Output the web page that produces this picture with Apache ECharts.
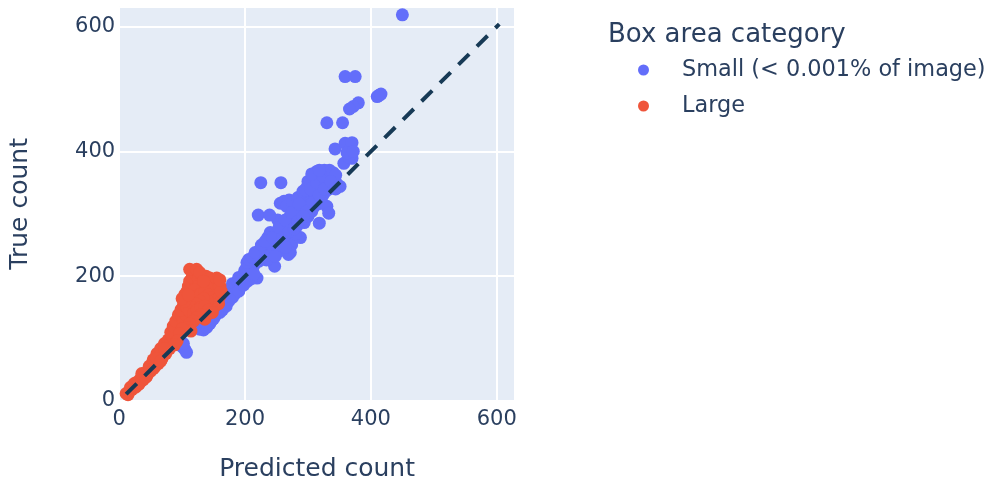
<!DOCTYPE html>
<html>
<head>
<meta charset="utf-8">
<script src="https://cdn.jsdelivr.net/npm/echarts@6/dist/echarts.min.js"></script>
<style>
  html, body { margin: 0; padding: 0; background: #fff; }
  #chart { width: 994px; height: 487px; }
</style>
</head>
<body>
<div id="chart"></div>
<script>
// [predicted, true] pairs
var smallCounts = [
  [99, 88], [104, 83], [107, 78], [102, 92],
  [128, 115], [134, 114], [139, 118], [136, 126], [142, 130], [146, 128], [148, 138], [152, 136],
  [150, 146], [156, 144], [158, 152], [162, 150], [160, 160], [166, 158], [168, 166], [172, 164],
  [170, 174], [176, 172], [178, 180], [182, 178], [180, 188], [186, 184], [188, 192], [192, 190],
  [190, 198], [196, 196], [198, 204], [202, 200], [200, 210], [206, 208], [208, 216], [212, 212],
  [210, 222], [216, 220], [218, 228], [222, 224], [220, 234], [226, 232], [228, 240], [232, 236],
  [230, 246], [236, 244], [238, 252], [242, 248], [240, 258], [246, 256], [248, 264], [252, 260],
  [250, 270], [256, 268], [258, 276], [262, 272], [260, 282], [266, 280], [268, 288], [272, 284],
  [270, 294], [276, 292], [278, 300], [282, 296], [280, 306], [286, 304], [288, 312], [292, 308],
  [290, 318], [296, 316], [298, 324], [302, 320], [300, 330], [306, 328], [308, 336], [312, 332],
  [310, 342], [316, 340], [318, 348], [322, 344], [320, 354], [326, 352], [328, 360], [332, 356],
  [330, 366], [336, 364], [338, 360], [342, 356], [316, 362], [322, 366], [312, 358], [326, 370],
  [203, 222], [206, 227], [224, 243], [245, 247], [255, 255], [268, 259], [274, 250], [288, 262],
  [272, 238], [269, 235], [247, 216], [219, 197], [210, 196], [234, 226], [262, 250], [280, 268],
  [294, 286], [300, 296], [306, 304], [310, 312], [316, 316], [320, 322], [324, 330], [328, 336],
  [334, 340], [340, 344], [346, 348], [351, 344], [330, 312], [333, 301], [318, 285], [300, 302],
  [256, 317], [262, 320], [270, 322], [266, 312], [276, 318], [284, 326], [292, 336], [298, 342],
  [304, 348], [308, 356], [240, 270], [236, 262], [252, 290], [300, 352], [314, 368], [330, 350],
  [144, 124], [154, 140], [164, 146], [174, 160], [184, 172], [194, 184], [204, 192], [214, 204],
  [150, 132], [160, 142], [170, 152], [180, 166], [190, 176], [198, 186], [212, 230], [216, 238],
  [226, 250], [232, 256], [244, 262], [254, 278], [264, 290], [274, 302], [286, 316], [296, 338],
  [304, 340], [314, 350], [324, 360], [334, 370], [306, 364], [318, 370], [340, 366], [344, 362],
  [282, 280], [290, 292], [298, 304], [308, 318], [318, 330], [326, 340], [336, 352], [344, 340],
  [254, 240], [260, 262], [270, 272], [278, 276], [284, 288], [292, 296], [264, 246], [248, 232],
  [343, 404], [359, 413], [370, 414], [357, 381], [370, 389], [365, 391], [362, 398], [372, 400],
  [380, 478], [372, 472], [366, 468], [330, 446], [355, 446], [359, 520], [375, 520],
  [410, 488], [413, 490], [416, 492], [450, 619], [225, 350], [257, 350], [221, 298], [239, 298]
];

var largeCounts = [
  [11, 12], [14, 10], [16, 16], [20, 18], [22, 24], [26, 22], [28, 30], [32, 28], [34, 36], [38, 34],
  [40, 42], [44, 40], [46, 50], [50, 48], [52, 58], [56, 54], [58, 64], [62, 60], [64, 72], [68, 68],
  [70, 80], [74, 76], [76, 86], [80, 84], [60, 76], [54, 66], [66, 84], [72, 92], [78, 98], [82, 94],
  [84, 104], [86, 100], [88, 112], [90, 106], [92, 120], [94, 114], [96, 128], [98, 122], [82, 110],
  [86, 120], [90, 128], [94, 138], [100, 136], [102, 130], [104, 144], [106, 138], [98, 146],
  [102, 154], [108, 150], [110, 158], [106, 162], [112, 166], [104, 170], [108, 176], [114, 172],
  [116, 180], [110, 184], [118, 186], [112, 192], [120, 194], [116, 198], [122, 202], [112, 211],
  [123, 211], [144, 197], [155, 197], [126, 196], [132, 198], [138, 200], [146, 190], [152, 186],
  [158, 182], [156, 172], [150, 176], [144, 180], [138, 184], [132, 188], [126, 184], [120, 178],
  [124, 168], [130, 172], [136, 176], [142, 170], [148, 166], [154, 162], [160, 168], [158, 156],
  [152, 152], [146, 156], [140, 160], [134, 164], [128, 160], [122, 156], [116, 150], [112, 144],
  [118, 140], [124, 146], [130, 150], [136, 152], [142, 146], [148, 142], [136, 131], [130, 138],
  [124, 134], [118, 128], [112, 124], [108, 118], [114, 112], [100, 116], [96, 108], [92, 96],
  [88, 90], [160, 184], [162, 176], [160, 194], [128, 206], [134, 192], [104, 160], [100, 164], [110, 170],
  [18, 22], [24, 28], [30, 26], [36, 44], [42, 38], [48, 56], [54, 52], [60, 68], [66, 64], [72, 84]
];

var diagonal = [[11, 11], [604, 604]];
var tickValues = [0, 200, 400, 600];

var textColor = '#2a3f5f';
var font = 'DejaVu Sans';

var myChart = echarts.init(document.getElementById('chart'));
var option = {
  animation: false,
  textStyle: { fontFamily: font, color: textColor },
  title: {
    text: 'Box area category',
    left: 603,
    top: 17,
    textStyle: { fontFamily: font, fontSize: 26, fontWeight: 'normal', color: textColor }
  },
  legend: {
    orient: 'vertical',
    left: 633,
    top: 52,
    icon: 'circle',
    itemWidth: 67,
    itemHeight: 11,
    itemGap: 10,
    data: ['Small (< 0.001% of image)', 'Large'],
    textStyle: { fontFamily: font, fontSize: 22.4, color: textColor, lineHeight: 26 }
  },
  grid: {
    left: 119.2,
    top: 6.7,
    width: 395.8,
    height: 395,
    show: true,
    backgroundColor: '#E5ECF6',
    borderWidth: 0
  },
  xAxis: {
    type: 'value',
    min: tickValues[0],
    max: 629,
    interval: 200,
    name: 'Predicted count',
    nameLocation: 'middle',
    nameGap: 56,
    nameTextStyle: { fontFamily: font, fontSize: 25, color: textColor },
    axisLine: { show: false },
    axisTick: { show: false },
    axisLabel: { fontFamily: font, fontSize: 21, color: textColor, margin: 8, showMaxLabel: false },
    splitLine: { lineStyle: { color: '#fff', width: 2 } }
  },
  yAxis: {
    type: 'value',
    min: tickValues[0],
    max: 632,
    interval: 200,
    name: 'True count',
    nameLocation: 'middle',
    nameGap: 86,
    nameTextStyle: { fontFamily: font, fontSize: 25, color: textColor },
    axisLine: { show: false },
    axisTick: { show: false },
    axisLabel: { fontFamily: font, fontSize: 21, color: textColor, margin: 4, showMaxLabel: false },
    splitLine: { lineStyle: { color: '#fff', width: 2 } }
  },
  series: [
    {
      name: 'Small (< 0.001% of image)',
      type: 'scatter',
      symbolSize: 13,
      itemStyle: { color: '#636efa', opacity: 1 },
      data: smallCounts,
      z: 2
    },
    {
      name: 'Large',
      type: 'scatter',
      symbolSize: 13,
      itemStyle: { color: '#EF553B', opacity: 1 },
      data: largeCounts,
      z: 3
    },
    {
      type: 'line',
      data: diagonal,
      symbol: 'none',
      silent: true,
      lineStyle: { color: '#173a56', width: 4, type: [15, 11] },
      z: 4
    }
  ]
};
myChart.setOption(option);
</script>
</body>
</html>
